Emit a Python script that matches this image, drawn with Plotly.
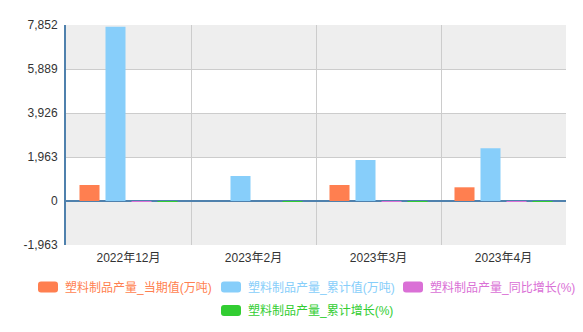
import plotly.graph_objects as go

# Monthly plastic-products output
categories = ["2022年12月", "2023年2月", "2023年3月", "2023年4月"]
current_value = [714, None, 714, 611]          # 当期值(万吨)
cumulative_value = [7771.6, 1115, 1829, 2351]  # 累计值(万吨)
yoy_growth = [-3.1, None, -1.2, -2.6]          # 同比增长(%)
cumulative_growth = [-2.9, -3.5, -3.0, -2.9]   # 累计增长(%)

series_names = [
    "塑料制品产量_当期值(万吨)",
    "塑料制品产量_累计值(万吨)",
    "塑料制品产量_同比增长(%)",
    "塑料制品产量_累计增长(%)",
]
series_colors = ["#ff7f50", "#87cefa", "#da70d6", "#32cd32"]
series_values = [current_value, cumulative_value, yoy_growth, cumulative_growth]

y_ticks = [-1963, 0, 1963, 3926, 5889, 7852]
y_tick_text = ["-1,963", "0", "1,963", "3,926", "5,889", "7,852"]

W, H = 583, 332
L, R, T, B = 66, 17, 25, 87
PW, PH = W - L - R, H - T - B

fig = go.Figure()
for name, color, vals in zip(series_names, series_colors, series_values):
    fig.add_trace(go.Bar(x=categories, y=vals, name=name,
                         marker=dict(color=color, line=dict(width=0)),
                         showlegend=False))

# alternating grey bands behind the bars
shapes = []
for lo, hi in [(5889, 7852), (1963, 3926), (-1963, 0)]:
    shapes.append(dict(type="rect", xref="paper", yref="y", x0=0, x1=1,
                       y0=lo, y1=hi, fillcolor="#eeeeee", line=dict(width=0),
                       layer="below"))


def px_x(px):
    return (px - L) / PW


def px_y(py):
    return (H - B - py) / PH


def swatch(x0, y0, w, h, r, color):
    xa, xb = px_x(x0), px_x(x0 + w)
    ya, yb = px_y(y0), px_y(y0 + h)
    rx, ry = r / PW, r / PH
    path = (f"M {xa+rx},{ya} L {xb-rx},{ya} Q {xb},{ya} {xb},{ya-ry} "
            f"L {xb},{yb+ry} Q {xb},{yb} {xb-rx},{yb} L {xa+rx},{yb} "
            f"Q {xa},{yb} {xa},{yb+ry} L {xa},{ya-ry} Q {xa},{ya} {xa+rx},{ya} Z")
    return dict(type="path", xref="paper", yref="paper", path=path,
                fillcolor=color, line=dict(width=0))


legend_pos = [(38, 287), (221, 287), (403, 287), (221, 310.5)]
annotations = []
for (lx, ly), name, color in zip(legend_pos, series_names, series_colors):
    shapes.append(swatch(lx, ly - 5.5, 20, 11, 3, color))
    annotations.append(dict(xref="paper", yref="paper", x=px_x(lx + 25), y=px_y(ly),
                            xanchor="left", yanchor="middle", showarrow=False,
                            text=name, font=dict(size=12, color=color)))

fig.update_layout(
    width=W, height=H,
    margin=dict(l=L, r=R, t=T, b=B),
    paper_bgcolor="white", plot_bgcolor="white",
    barmode="group", bargap=0.168, bargroupgap=0.23,
    font=dict(family="Liberation Sans, Noto Sans CJK SC, sans-serif", size=12, color="#333333"),
    shapes=shapes, annotations=annotations,
    showlegend=False,
    xaxis=dict(type="category", categoryorder="array", categoryarray=categories,
               tickson="boundaries", showgrid=True, gridcolor="#cccccc", gridwidth=1,
               ticks="", showline=False, zeroline=False, ticklabelstandoff=4,
               tickfont=dict(size=12, color="#333333")),
    yaxis=dict(range=[-1963, 7852], tickvals=y_ticks, ticktext=y_tick_text,
               showgrid=True, gridcolor="#cccccc", gridwidth=1,
               zeroline=True, zerolinecolor="#4f81ad", zerolinewidth=2,
               showline=True, linecolor="#4f81ad", linewidth=2,
               ticks="", ticklabelstandoff=4,
               tickfont=dict(size=12, color="#333333")),
)

fig.write_html("out.html")
